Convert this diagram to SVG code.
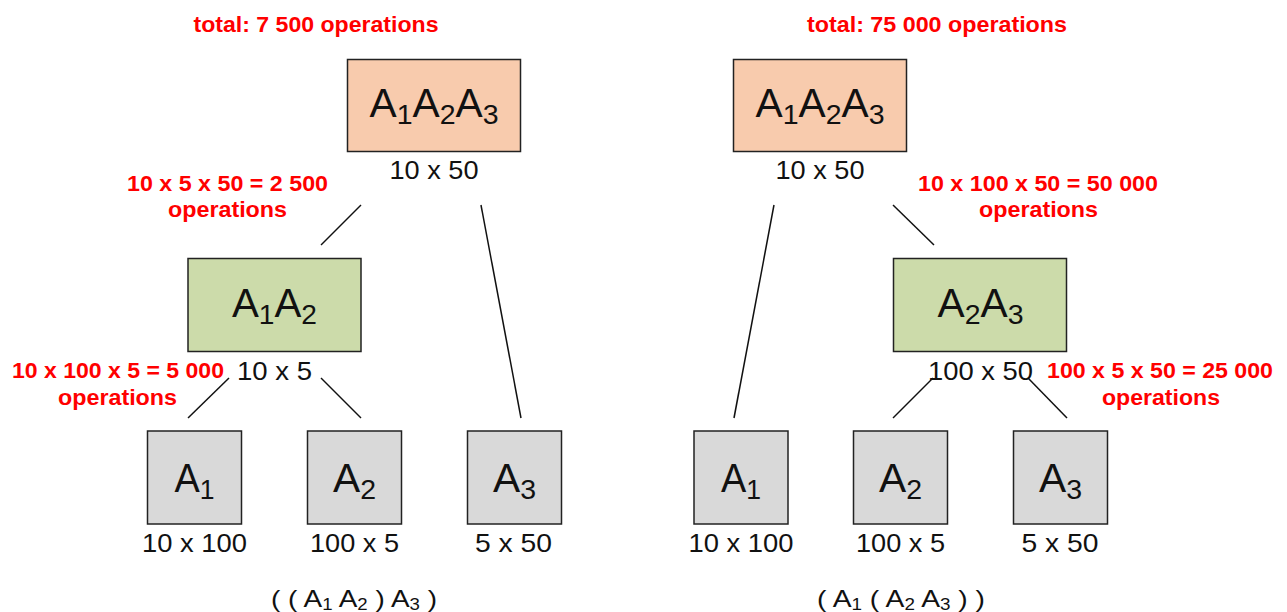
<svg xmlns="http://www.w3.org/2000/svg" width="1287" height="612" viewBox="0 0 1287 612">
  <style>
    .box { stroke: #222; stroke-width: 1.5; }
    .root { fill: #F8CBAD; }
    .mid { fill: #CCDBAA; }
    .leaf { fill: #D9D9D9; }
    text { font-family: "Liberation Sans", Arial, sans-serif; text-anchor: middle; }
    .big { font-size: 40px; fill: #111; }
    .big tspan.s { font-size: 28px; }
    .dim { font-size: 25px; fill: #111; }
    .cost { font-size: 21.5px; font-weight: bold; fill: #FF0000; }
    .expr { font-size: 24px; fill: #111; }
    .expr tspan.s { font-size: 16px; }
    .edges line { stroke: #111; stroke-width: 1.5; }
  </style>

  <!-- totals -->
  <text class="cost" x="316" y="31.5" textLength="245" lengthAdjust="spacingAndGlyphs">total: 7 500 operations</text>
  <text class="cost" x="937" y="31.5" textLength="260" lengthAdjust="spacingAndGlyphs">total: 75 000 operations</text>

  <!-- connectors -->
  <g id="connectors" class="edges">
    <line x1="361" y1="205" x2="321" y2="245"/>
    <line x1="481" y1="205" x2="521" y2="418"/>
    <line x1="229" y1="378" x2="188" y2="418"/>
    <line x1="321" y1="378" x2="361" y2="418"/>
    <line x1="774" y1="205" x2="734" y2="418"/>
    <line x1="893" y1="205" x2="934" y2="245"/>
    <line x1="933" y1="378" x2="893" y2="418"/>
    <line x1="1028" y1="378" x2="1067" y2="418"/>
  </g>

  <!-- left tree: ((A1 A2) A3) -->
  <g id="L-A123">
    <rect class="box root" x="347.5" y="59.5" width="173" height="92"/>
    <text class="big" x="434" y="116.5" textLength="129" lengthAdjust="spacingAndGlyphs">A<tspan class="s" dy="7">1</tspan><tspan dy="-7">A</tspan><tspan class="s" dy="7">2</tspan><tspan dy="-7">A</tspan><tspan class="s" dy="7">3</tspan></text>
    <text class="dim" x="434" y="179" textLength="89" lengthAdjust="spacingAndGlyphs">10 x 50</text>
  </g>
  <g id="L-A12">
    <rect class="box mid" x="188" y="258.5" width="173" height="93"/>
    <text class="big" x="274.5" y="317" textLength="85" lengthAdjust="spacingAndGlyphs">A<tspan class="s" dy="7">1</tspan><tspan dy="-7">A</tspan><tspan class="s" dy="7">2</tspan></text>
    <text class="dim" x="274.5" y="380" textLength="75" lengthAdjust="spacingAndGlyphs">10 x 5</text>
  </g>
  <g id="L-A1">
    <rect class="box leaf" x="147.5" y="431" width="94" height="93"/>
    <text class="big" x="194.5" y="491.5" textLength="40" lengthAdjust="spacingAndGlyphs">A<tspan class="s" dy="7">1</tspan></text>
    <text class="dim" x="194.5" y="552" textLength="105" lengthAdjust="spacingAndGlyphs">10 x 100</text>
  </g>
  <g id="L-A2">
    <rect class="box leaf" x="307.5" y="431" width="94" height="93"/>
    <text class="big" x="354.5" y="491.5" textLength="43" lengthAdjust="spacingAndGlyphs">A<tspan class="s" dy="7">2</tspan></text>
    <text class="dim" x="354.5" y="552" textLength="89" lengthAdjust="spacingAndGlyphs">100 x 5</text>
  </g>
  <g id="L-A3">
    <rect class="box leaf" x="467.5" y="431" width="94" height="93"/>
    <text class="big" x="514.5" y="491.5" textLength="43" lengthAdjust="spacingAndGlyphs">A<tspan class="s" dy="7">3</tspan></text>
    <text class="dim" x="513.5" y="552" textLength="77" lengthAdjust="spacingAndGlyphs">5 x 50</text>
  </g>
  <g id="L-costs">
    <text class="cost" x="227.5" y="191" textLength="201" lengthAdjust="spacingAndGlyphs">10 x 5 x 50 = 2 500</text>
    <text class="cost" x="227.5" y="217" textLength="119" lengthAdjust="spacingAndGlyphs">operations</text>
    <text class="cost" x="118" y="378" textLength="212" lengthAdjust="spacingAndGlyphs">10 x 100 x 5 = 5 000</text>
    <text class="cost" x="117.5" y="405" textLength="119" lengthAdjust="spacingAndGlyphs">operations</text>
  </g>
  <text class="expr" x="354" y="606.5" textLength="166" lengthAdjust="spacingAndGlyphs">( ( A<tspan class="s" dy="3">1</tspan><tspan dy="-3"> A</tspan><tspan class="s" dy="3">2</tspan><tspan dy="-3"> ) A</tspan><tspan class="s" dy="3">3</tspan><tspan dy="-3"> )</tspan></text>

  <!-- right tree: (A1 (A2 A3)) -->
  <g id="R-A123">
    <rect class="box root" x="733.5" y="59.5" width="173" height="92"/>
    <text class="big" x="820" y="116.5" textLength="129" lengthAdjust="spacingAndGlyphs">A<tspan class="s" dy="7">1</tspan><tspan dy="-7">A</tspan><tspan class="s" dy="7">2</tspan><tspan dy="-7">A</tspan><tspan class="s" dy="7">3</tspan></text>
    <text class="dim" x="820" y="179" textLength="89" lengthAdjust="spacingAndGlyphs">10 x 50</text>
  </g>
  <g id="R-A23">
    <rect class="box mid" x="893.5" y="258.5" width="173" height="93"/>
    <text class="big" x="980.5" y="317" textLength="86" lengthAdjust="spacingAndGlyphs">A<tspan class="s" dy="7">2</tspan><tspan dy="-7">A</tspan><tspan class="s" dy="7">3</tspan></text>
    <text class="dim" x="980.5" y="380" textLength="105" lengthAdjust="spacingAndGlyphs">100 x 50</text>
  </g>
  <g id="R-A1">
    <rect class="box leaf" x="694" y="431" width="94" height="93"/>
    <text class="big" x="741" y="491.5" textLength="40" lengthAdjust="spacingAndGlyphs">A<tspan class="s" dy="7">1</tspan></text>
    <text class="dim" x="741" y="552" textLength="105" lengthAdjust="spacingAndGlyphs">10 x 100</text>
  </g>
  <g id="R-A2">
    <rect class="box leaf" x="853.5" y="431" width="94" height="93"/>
    <text class="big" x="900.5" y="491.5" textLength="43" lengthAdjust="spacingAndGlyphs">A<tspan class="s" dy="7">2</tspan></text>
    <text class="dim" x="900.5" y="552" textLength="89" lengthAdjust="spacingAndGlyphs">100 x 5</text>
  </g>
  <g id="R-A3">
    <rect class="box leaf" x="1013.5" y="431" width="94" height="93"/>
    <text class="big" x="1060.5" y="491.5" textLength="43" lengthAdjust="spacingAndGlyphs">A<tspan class="s" dy="7">3</tspan></text>
    <text class="dim" x="1060" y="552" textLength="77" lengthAdjust="spacingAndGlyphs">5 x 50</text>
  </g>
  <g id="R-costs">
    <text class="cost" x="1038" y="191" textLength="240" lengthAdjust="spacingAndGlyphs">10 x 100 x 50 = 50 000</text>
    <text class="cost" x="1038.5" y="217" textLength="119" lengthAdjust="spacingAndGlyphs">operations</text>
    <text class="cost" x="1160" y="378" textLength="226" lengthAdjust="spacingAndGlyphs">100 x 5 x 50 = 25 000</text>
    <text class="cost" x="1161" y="405" textLength="118" lengthAdjust="spacingAndGlyphs">operations</text>
  </g>
  <text class="expr" x="901" y="606.5" textLength="168" lengthAdjust="spacingAndGlyphs">( A<tspan class="s" dy="3">1</tspan><tspan dy="-3"> ( A</tspan><tspan class="s" dy="3">2</tspan><tspan dy="-3"> A</tspan><tspan class="s" dy="3">3</tspan><tspan dy="-3"> ) )</tspan></text>
</svg>
